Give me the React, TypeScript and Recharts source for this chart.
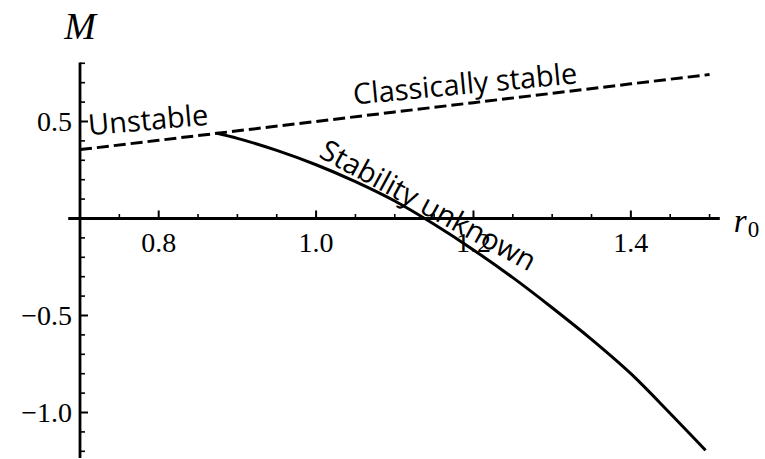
import React from "react";
import { LineChart, Line, XAxis, YAxis, ReferenceLine, ReferenceDot } from "recharts";

// ---- data ----
const classicalR0 = [0.7, 0.8, 0.874, 1.0, 1.1, 1.2, 1.3, 1.4, 1.5];
const classicalM = [0.355, 0.403, 0.439, 0.5, 0.549, 0.597, 0.645, 0.694, 0.742];

const unknownR0 = [0.874, 0.9, 0.95, 1.0, 1.05, 1.1, 1.15, 1.2, 1.25, 1.3, 1.35, 1.4, 1.45, 1.495];
const unknownM = [0.439, 0.413, 0.351, 0.277, 0.19, 0.09, -0.03, -0.162, -0.305, -0.46, -0.623, -0.8, -1.005, -1.195];

const xMajorTicks = [0.8, 1.0, 1.2, 1.4];
const xMajorLabels = ["0.8", "1.0", "1.2", "1.4"];
const xMinorTicks = [0.75, 0.85, 0.9, 0.95, 1.05, 1.1, 1.15, 1.25, 1.3, 1.35, 1.45, 1.5];

const yMajorTicks = [0.5, -0.5, -1.0];
const yMajorLabels = ["0.5", "\u22120.5", "\u22121.0"];
const yMinorTicks = [0.8, 0.7, 0.6, 0.4, 0.3, 0.2, 0.1, -0.1, -0.2, -0.3, -0.4, -0.6, -0.7, -0.8, -0.9, -1.1, -1.2];

const X_DOMAIN: [number, number] = [0.7, 1.52];
const Y_DOMAIN: [number, number] = [-1.235, 0.82];
const X_AXIS_START = 0.685;
const X_AXIS_END = 1.513;
const Y_AXIS_TOP = 0.804;
const Y_AXIS_BOTTOM = -1.235;

const annotations = [
  { text: "Unstable", x: 0.7877, y: 0.456, angle: -5 },
  { text: "Classically stable", x: 1.1905, y: 0.642, angle: -5.45 },
  { text: "Stability unknown", x: 1.1365, y: 0.022, angle: 28.6 },
];

const classicalData = classicalR0.map((x, i) => ({ x, y: classicalM[i] }));
const unknownData = unknownR0.map((x, i) => ({ x, y: unknownM[i] }));

const SERIF = "Liberation Serif, Times New Roman, serif";
const SANS = "Open Sans, Noto Sans, sans-serif";

// tick lengths in data units (x: 787 px/unit, y: 194 px/unit)
const X_MAJOR_LEN = 8 / 194;
const X_MINOR_LEN = 4.5 / 194;
const Y_MAJOR_LEN = 8 / 787;
const Y_MINOR_LEN = 5 / 787;

export default function App() {
  return (
    <div style={{ position: "absolute", left: 0, top: 0, background: "#fff" }}>
      <LineChart
        width={765}
        height={459}
        margin={{ top: 59.4, right: 39.7, bottom: 0.9, left: 80 }}
      >
        <XAxis type="number" dataKey="x" domain={X_DOMAIN} allowDataOverflow hide />
        <YAxis type="number" dataKey="y" domain={Y_DOMAIN} allowDataOverflow hide />

        {/* axes */}
        <ReferenceLine
          segment={[{ x: X_AXIS_START, y: 0 }, { x: X_AXIS_END, y: 0 }]}
          stroke="#000"
          strokeWidth={2.8}
          ifOverflow="visible"
        />
        <ReferenceLine
          segment={[{ x: 0.7, y: Y_AXIS_BOTTOM }, { x: 0.7, y: Y_AXIS_TOP }]}
          stroke="#000"
          strokeWidth={2.8}
          ifOverflow="visible"
        />

        {/* x ticks */}
        {xMajorTicks.map((t) => (
          <ReferenceLine
            key={"xM" + t}
            segment={[{ x: t, y: 0 }, { x: t, y: X_MAJOR_LEN }]}
            stroke="#000"
            strokeWidth={2}
            ifOverflow="visible"
          />
        ))}
        {xMinorTicks.map((t) => (
          <ReferenceLine
            key={"xm" + t}
            segment={[{ x: t, y: 0 }, { x: t, y: X_MINOR_LEN }]}
            stroke="#000"
            strokeWidth={1.6}
            ifOverflow="visible"
          />
        ))}
        {/* y ticks */}
        {yMajorTicks.map((t) => (
          <ReferenceLine
            key={"yM" + t}
            segment={[{ x: 0.7, y: t }, { x: 0.7 + Y_MAJOR_LEN, y: t }]}
            stroke="#000"
            strokeWidth={2}
            ifOverflow="visible"
          />
        ))}
        {yMinorTicks.map((t) => (
          <ReferenceLine
            key={"ym" + t}
            segment={[{ x: 0.7, y: t }, { x: 0.7 + Y_MINOR_LEN, y: t }]}
            stroke="#000"
            strokeWidth={1.6}
            ifOverflow="visible"
          />
        ))}

        {/* series */}
        <Line
          data={classicalData}
          dataKey="y"
          type="linear"
          stroke="#000"
          strokeWidth={3}
          strokeDasharray="12 5"
          dot={false}
          activeDot={false}
          isAnimationActive={false}
        />
        <Line
          data={unknownData}
          dataKey="y"
          type="monotone"
          stroke="#000"
          strokeWidth={3}
          dot={false}
          activeDot={false}
          isAnimationActive={false}
        />

        {/* tick labels */}
        {xMajorTicks.map((t, i) => (
          <ReferenceDot
            key={"xl" + t}
            x={t}
            y={0}
            r={0}
            ifOverflow="visible"
            shape={(p: any) => (
              <text
                x={p.cx}
                y={p.cy + 33.5}
                textAnchor="middle"
                style={{ fontFamily: SERIF, fontSize: 28 }}
                fill="#000"
              >
                {xMajorLabels[i]}
              </text>
            )}
          />
        ))}
        {yMajorTicks.map((t, i) => (
          <ReferenceDot
            key={"yl" + t}
            x={0.7}
            y={t}
            r={0}
            ifOverflow="visible"
            shape={(p: any) => (
              <text
                x={p.cx - 8}
                y={p.cy + 9.5}
                textAnchor="end"
                style={{ fontFamily: SERIF, fontSize: 28 }}
                fill="#000"
              >
                {yMajorLabels[i]}
              </text>
            )}
          />
        ))}

        {/* axis titles */}
        <ReferenceDot
          x={0.7}
          y={Y_AXIS_TOP}
          r={0}
          ifOverflow="visible"
          shape={(p: any) => (
            <text
              x={p.cx}
              y={p.cy - 24}
              textAnchor="middle"
              style={{ fontFamily: SERIF, fontSize: 38, fontStyle: "italic" }}
              fill="#000"
            >
              M
            </text>
          )}
        />
        <ReferenceDot
          x={X_AXIS_END}
          y={0}
          r={0}
          ifOverflow="visible"
          shape={(p: any) => (
            <text x={p.cx + 14} y={p.cy + 14} style={{ fontFamily: SERIF, fontSize: 33 }} fill="#000">
              <tspan style={{ fontStyle: "italic" }}>r</tspan>
              <tspan style={{ fontSize: 23 }} dy={5} dx={1}>0</tspan>
            </text>
          )}
        />

        {/* region annotations */}
        {annotations.map((a) => (
          <ReferenceDot
            key={a.text}
            x={a.x}
            y={a.y}
            r={0}
            ifOverflow="visible"
            shape={(p: any) => (
              <text
                x={p.cx}
                y={p.cy}
                textAnchor="middle"
                style={{ fontFamily: SANS, fontSize: 29 }}
                fill="#000"
                transform={`rotate(${a.angle} ${p.cx} ${p.cy})`}
              >
                {a.text}
              </text>
            )}
          />
        ))}
      </LineChart>
    </div>
  );
}
